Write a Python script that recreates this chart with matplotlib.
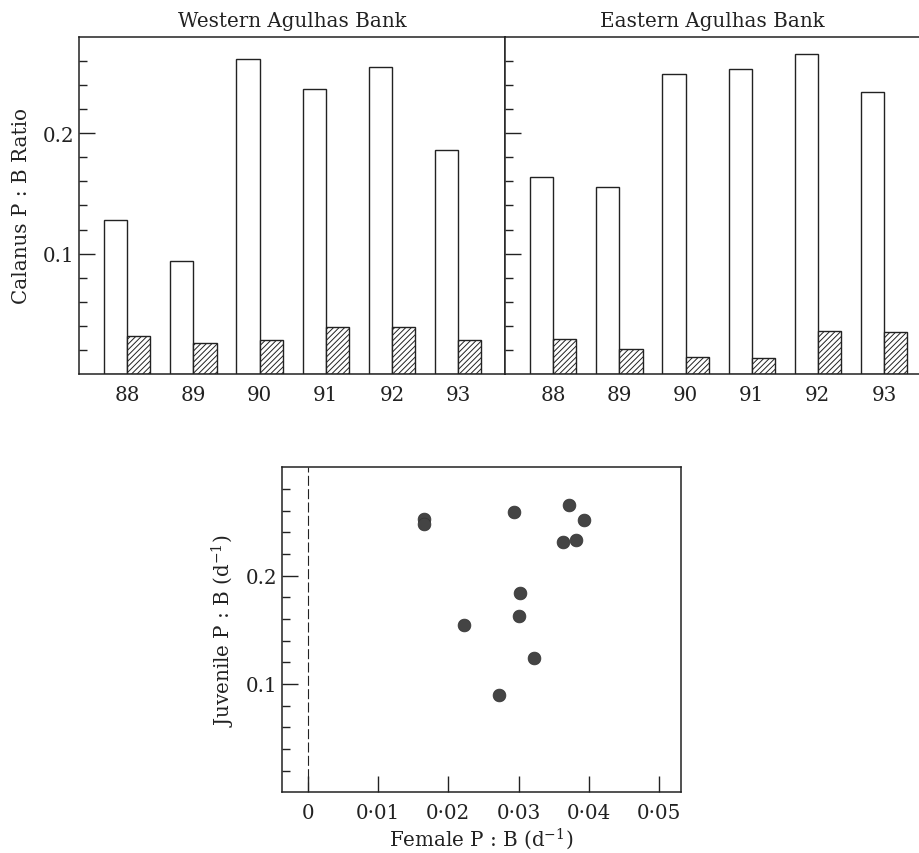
import matplotlib
matplotlib.use('Agg')
import matplotlib.pyplot as plt
from matplotlib.ticker import FixedLocator
import numpy as np

plt.rcParams['font.family'] = ['DejaVu Serif']
plt.rcParams['hatch.linewidth'] = 0.7
plt.rcParams['mathtext.fontset'] = 'dejavuserif'

# data
years = ['88', '89', '90', '91', '92', '93']
west_juv = [0.128, 0.094, 0.2615, 0.237, 0.255, 0.186]
west_fem = [0.0315, 0.026, 0.0285, 0.039, 0.039, 0.0285]
east_juv = [0.164, 0.155, 0.249, 0.2535, 0.266, 0.234]
east_fem = [0.0293, 0.021, 0.0138, 0.0132, 0.0354, 0.0351]

fem_pb = [0.0165, 0.0165, 0.0293, 0.0372, 0.0393, 0.0363,
          0.0382, 0.0302, 0.0301, 0.0222, 0.0322, 0.0272]
juv_pb = [0.2524, 0.2477, 0.2591, 0.2653, 0.2511, 0.2308,
          0.2330, 0.1837, 0.1625, 0.1542, 0.1243, 0.0898]

ink = '#222222'
fs = 14.3

fig = plt.figure(figsize=(9.2, 8.54), dpi=100, facecolor='w')
axW = fig.add_axes([0.0859, 0.5609, 0.4630, 0.3946])
axE = fig.add_axes([0.5489, 0.5609, 0.4511, 0.3946])
axS = fig.add_axes([0.3068, 0.0711, 0.4334, 0.3805])

x = np.arange(len(years))
w = 0.35
for ax, juv, fem, title, xr in [(axW, west_juv, west_fem, 'Western Agulhas Bank', 5.71),
                                (axE, east_juv, east_fem, 'Eastern Agulhas Bank', 5.545)]:
    ax.bar(x - w / 2, juv, w, facecolor='white', edgecolor=ink, linewidth=1.0)
    ax.bar(x + w / 2, fem, w, facecolor='white', edgecolor=ink, linewidth=1.0, hatch='//////')
    ax.set_xlim(-0.73, xr)
    ax.set_ylim(0, 0.28)
    ax.set_xticks(x)
    ax.set_xticklabels(years, fontsize=fs, color=ink)
    ax.tick_params(axis='x', length=0, pad=8)
    ax.yaxis.set_major_locator(FixedLocator([0.1, 0.2]))
    ax.yaxis.set_minor_locator(FixedLocator(np.arange(0.02, 0.27, 0.02)))
    ax.tick_params(axis='y', which='major', direction='in', length=11.5, width=1.0, color=ink)
    ax.tick_params(axis='y', which='minor', direction='in', length=6, width=1.0, color=ink)
    ax.set_title(title, fontsize=fs, color=ink, pad=8)
    for s in ax.spines.values():
        s.set_color(ink)
        s.set_linewidth(1.1)

axW.set_yticklabels(['0.1', '0.2'], fontsize=fs, color=ink)
axW.set_ylabel('Calanus P : B Ratio', fontsize=fs, color=ink, labelpad=8)
axE.tick_params(axis='y', which='both', labelleft=False)
axE.spines['right'].set_visible(False)

# scatter panel
axS.axvline(0, color=ink, linestyle=(0, (9, 3)), linewidth=0.8)
axS.scatter(fem_pb, juv_pb, s=85, color='#444444', edgecolor='#333333', linewidth=0.5, zorder=3)
axS.set_xlim(-0.0036, 0.0531)
axS.set_ylim(0, 0.30)
axS.set_xticks([0, 0.01, 0.02, 0.03, 0.04, 0.05])
axS.set_xticklabels(['0', '0·01', '0·02', '0·03', '0·04', '0·05'], fontsize=fs, color=ink)
axS.yaxis.set_major_locator(FixedLocator([0.1, 0.2]))
axS.set_yticklabels(['0.1', '0.2'], fontsize=fs, color=ink)
axS.yaxis.set_minor_locator(FixedLocator(np.arange(0.02, 0.29, 0.02)))
axS.tick_params(axis='x', direction='in', length=11.5, width=1.0, color=ink, pad=8)
axS.tick_params(axis='y', which='major', direction='in', length=11.5, width=1.0, color=ink)
axS.tick_params(axis='y', which='minor', direction='in', length=5.5, width=1.0, color=ink)
axS.set_xlabel('Female P : B (d$^{-1}$)', fontsize=fs, color=ink, labelpad=2)
axS.set_ylabel('Juvenile P : B (d$^{-1}$)', fontsize=fs, color=ink, labelpad=6)
for s in axS.spines.values():
    s.set_color(ink)
    s.set_linewidth(1.1)

plt.savefig('out.png', dpi=100, facecolor='w')
